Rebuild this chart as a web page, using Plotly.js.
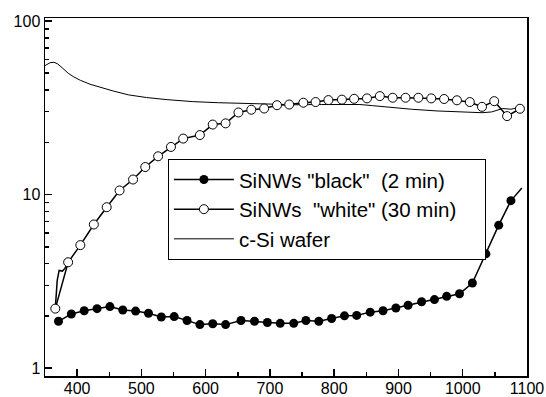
<!DOCTYPE html>
<html>
<head>
<meta charset="utf-8">
<script src="https://cdn.plot.ly/plotly-3.0.1.min.js"></script>
<style>html,body{margin:0;padding:0;background:#fff;}#chart{width:546px;height:397px;}</style>
</head>
<body>
<div id="chart"></div>
<script>
// Wavelength (nm) and reflectance (%)
const blackX = [371, 391, 411, 431, 451, 471, 491, 511, 531, 551, 571, 591, 611, 631, 655, 676, 696, 716, 737, 756, 776, 796, 816, 835, 856, 876, 896, 915, 936, 956, 975, 995, 1015, 1036, 1056, 1075];
const blackY = [1.86, 2.05, 2.14, 2.20, 2.26, 2.16, 2.13, 2.07, 1.97, 1.98, 1.88, 1.78, 1.80, 1.78, 1.88, 1.86, 1.83, 1.81, 1.81, 1.88, 1.86, 1.93, 2.00, 2.01, 2.10, 2.14, 2.22, 2.30, 2.41, 2.48, 2.59, 2.68, 3.09, 4.55, 6.66, 9.22];
const blackTailX = [1075, 1082, 1092];
const blackTailY = [9.22, 9.9, 10.9];

const whiteX = [366, 386, 405, 426, 446, 466, 487, 506, 526, 546, 565, 591, 611, 631, 651, 671, 691, 711, 730, 752, 771, 791, 812, 831, 851, 871, 891, 911, 931, 951, 971, 991, 1011, 1030, 1049, 1069, 1089];
const whiteY = [2.20, 4.07, 5.11, 6.72, 8.45, 10.55, 12.2, 14.4, 16.6, 18.8, 21.0, 22.0, 25.3, 25.7, 29.7, 30.8, 31.3, 32.7, 33.0, 33.8, 34.1, 35.0, 35.2, 35.6, 35.8, 36.9, 36.1, 36.1, 36.1, 35.8, 35.5, 34.9, 34.1, 32.0, 34.5, 28.3, 31.2];
const whiteHeadX = [366, 369, 372, 377, 381, 386];
const whiteHeadY = [2.20, 3.2, 3.65, 3.62, 3.75, 4.07];

const waferX = [350, 358, 364, 370, 378, 386, 394, 405, 420, 440, 456, 480, 508, 540, 580, 620, 660, 700, 740, 780, 820, 840, 860, 880, 920, 960, 1000, 1030, 1045, 1055, 1062, 1075, 1092];
const waferY = [55.3, 57.5, 57.8, 56.5, 53.2, 50.0, 47.8, 45.5, 43.2, 41.0, 39.5, 37.5, 36.2, 35.2, 34.3, 33.8, 33.4, 33.0, 32.9, 33.0, 33.2, 33.0, 32.5, 31.9, 31.0, 30.3, 29.9, 29.6, 29.9, 30.8, 31.3, 31.0, 32.0];

// trailing no-break spaces only pad the legend box to the reference width
const legendNames = ['SiNWs "black"\u00A0\u00A0(2 min)', 'SiNWs\u00A0\u00A0"white" (30 min)\u00A0\u00A0\u00A0\u00A0', 'c-Si wafer'];
const xTicks = [400, 500, 600, 700, 800, 900, 1000, 1100];
const yTicks = [1, 10, 100];
const yTickText = ['1', '10', '100'];

const traces = [
  {x: blackTailX, y: blackTailY, mode: 'lines', line: {color: '#000', width: 1.5}, showlegend: false, hoverinfo: 'skip'},
  {x: whiteHeadX, y: whiteHeadY, mode: 'lines', line: {color: '#000', width: 1.5}, showlegend: false, hoverinfo: 'skip'},
  {x: waferX, y: waferY, mode: 'lines', name: legendNames[2], line: {color: '#000', width: 1}, legendrank: 3},
  {x: blackX, y: blackY, mode: 'lines+markers', name: legendNames[0], line: {color: '#000', width: 1.5},
   marker: {symbol: 'circle', size: 9, color: '#000'}, legendrank: 1},
  {x: whiteX, y: whiteY, mode: 'lines+markers', name: legendNames[1], line: {color: '#000', width: 1.5},
   marker: {symbol: 'circle', size: 9, color: '#fff', line: {color: '#000', width: 1}}, legendrank: 2}
];

const font = 'Arial, "Liberation Sans", sans-serif';
const layout = {
  width: 546, height: 397,
  margin: {l: 45, r: 19, t: 18, b: 21},
  paper_bgcolor: '#fff', plot_bgcolor: '#fff',
  font: {family: font, color: '#000', size: 16},
  showlegend: true,
  legend: {
    x: 0.255, y: 0.607, xanchor: 'left', yanchor: 'top',
    bgcolor: '#fff', bordercolor: '#000', borderwidth: 1,
    font: {family: font, size: 20.5, color: '#000'},
    itemwidth: 60, traceorder: 'normal'
  },
  xaxis: {
    range: [350, 1100], tickvals: xTicks, ticks: 'inside', ticklen: 7, tickwidth: 1.5, tickcolor: '#000',
    showline: true, mirror: true, linecolor: '#000', linewidth: 1.5, showgrid: false, zeroline: false,
    tickfont: {family: font, size: 16, color: '#000'}, ticklabelstandoff: -3,
    minor: {dtick: 50, ticks: 'inside', ticklen: 4, tickwidth: 1.5, tickcolor: '#000', showgrid: false}
  },
  yaxis: {
    type: 'log', range: [Math.log10(0.9), Math.log10(104)],
    tickvals: yTicks, ticktext: yTickText, ticks: 'inside', ticklen: 7, tickwidth: 1.5, tickcolor: '#000',
    showline: true, mirror: true, linecolor: '#000', linewidth: 1.5, showgrid: false, zeroline: false,
    tickfont: {family: font, size: 16, color: '#000'},
    minor: {dtick: 'D1', ticks: 'inside', ticklen: 4, tickwidth: 1.5, tickcolor: '#000', showgrid: false}
  }
};

Plotly.newPlot('chart', traces, layout, {displayModeBar: false, staticPlot: true});
</script>
</body>
</html>
